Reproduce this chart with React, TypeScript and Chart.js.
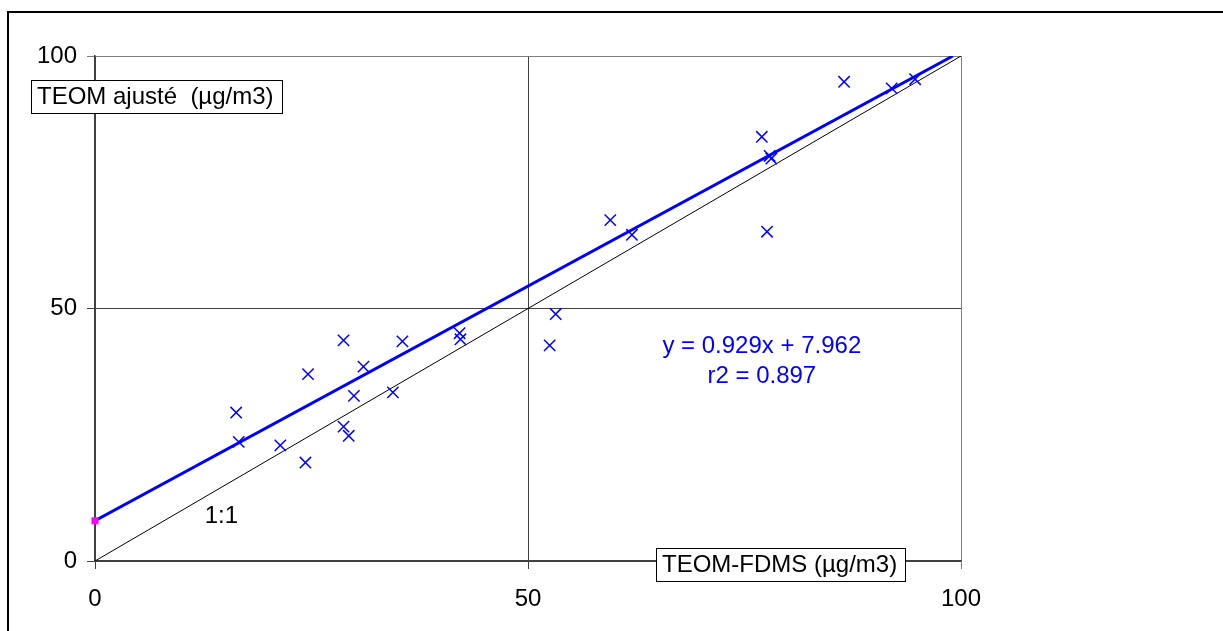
import React, { useEffect, useRef } from 'react';
import { Chart, registerables } from 'chart.js';

Chart.register(...registerables);

// TEOM-FDMS (x) vs TEOM ajusté (y), µg/m3
const fdmsValues = [
  16.3, 16.6, 21.4, 24.3, 24.6, 28.7, 28.7, 29.3, 29.9, 31.0, 34.4, 35.5,
  42.1, 42.2, 52.5, 53.2, 59.5, 62.0, 77.0, 77.6, 77.9, 78.1, 86.5, 92.0, 94.7,
];
const teomAdjValues = [
  29.4, 23.6, 22.9, 19.5, 37.0, 43.7, 26.6, 24.8, 32.7, 38.5, 33.4, 43.5,
  45.1, 43.9, 42.7, 48.9, 67.5, 64.6, 84.0, 65.2, 80.2, 79.7, 94.9, 93.6, 95.4,
];

// Regression line y = 0.929x + 7.962 (end points)
const fitLineX = [0, 99.06];
const fitLineY = [7.962, 100];
const interceptPoint = { x: 0, y: 7.962 };

// 1:1 line
const identityX = [0, 100];
const identityY = [0, 100];

const axisMin = 0;
const axisMax = 100;
const axisStep = 50;

const equationText = ['y = 0.929x + 7.962', 'r2 = 0.897'];
const equationAnchor = { x: 77.0, y: [41.25, 35.2] };
const identityLabel = '1:1';
const identityLabelAnchor = { x: 14.6, y: 7.46 };
const yAxisTitle = 'TEOM ajusté  (µg/m3)';
const xAxisTitle = 'TEOM-FDMS (µg/m3)';

const FONT = '"Liberation Sans", Arial, sans-serif';

const annotationPlugin = {
  id: 'annotations',
  afterDraw(chart: any) {
    const { ctx, scales } = chart;
    const xs = scales.x;
    const ys = scales.y;
    ctx.save();
    ctx.font = `24px ${FONT}`;
    ctx.textBaseline = 'alphabetic';

    // 1:1 label
    ctx.fillStyle = '#000';
    ctx.textAlign = 'center';
    ctx.fillText(
      identityLabel,
      xs.getPixelForValue(identityLabelAnchor.x),
      ys.getPixelForValue(identityLabelAnchor.y)
    );

    // equation
    ctx.fillStyle = '#0000FF';
    equationText.forEach((t, i) => {
      ctx.fillText(t, xs.getPixelForValue(equationAnchor.x), ys.getPixelForValue(equationAnchor.y[i]));
    });

    // axis title boxes
    const drawBox = (text: string, left: number, top: number) => {
      ctx.font = `24px ${FONT}`;
      const w = ctx.measureText(text).width;
      const bw = Math.round(w + 14);
      const bh = 33;
      ctx.fillStyle = '#fff';
      ctx.fillRect(left, top, bw, bh);
      ctx.strokeStyle = '#000';
      ctx.lineWidth = 1;
      ctx.strokeRect(left + 0.5, top + 0.5, bw, bh);
      ctx.fillStyle = '#000';
      ctx.textAlign = 'left';
      ctx.fillText(text, left + 6, top + 23.5);
    };
    drawBox(yAxisTitle, 31, 80);
    drawBox(xAxisTitle, 656, 548);

    // outer frame
    ctx.strokeStyle = '#000';
    ctx.lineWidth = 2;
    ctx.beginPath();
    ctx.moveTo(8, 631);
    ctx.lineTo(8, 12);
    ctx.lineTo(1223, 12);
    ctx.stroke();
    ctx.restore();
  },
};

export default function App() {
  const canvasRef = useRef<HTMLCanvasElement | null>(null);

  useEffect(() => {
    if (!canvasRef.current) return;
    const scatterData = fdmsValues.map((x, i) => ({ x, y: teomAdjValues[i] }));
    const fitData = fitLineX.map((x, i) => ({ x, y: fitLineY[i] }));
    const identityData = identityX.map((x, i) => ({ x, y: identityY[i] }));

    const gridColor = (c: any) => (c.tick && c.tick.value === axisMax ? '#808080' : '#404040');

    const chart = new Chart(canvasRef.current, {
      type: 'scatter',
      data: {
        datasets: [
          {
            label: 'intercept',
            data: [interceptPoint],
            pointStyle: 'rect',
            pointRadius: 5,
            backgroundColor: '#FF00FF',
            borderColor: '#FF00FF',
            borderWidth: 0,
            clip: false,
          } as any,
          {
            label: 'mesures',
            data: scatterData,
            pointStyle: 'crossRot',
            pointRadius: 8,
            borderColor: '#0000FF',
            backgroundColor: '#0000FF',
            borderWidth: 1.5,
          },
          {
            label: 'régression',
            data: fitData,
            showLine: true,
            pointRadius: 0,
            borderColor: '#0000FF',
            borderWidth: 3,
          },
          {
            label: '1:1',
            data: identityData,
            showLine: true,
            pointRadius: 0,
            borderColor: '#000',
            borderWidth: 1,
          },
        ],
      },
      options: {
        animation: false,
        responsive: false,
        devicePixelRatio: 1,
        layout: { padding: { left: 0, top: 56, right: 262, bottom: 0 } },
        plugins: { legend: { display: false }, tooltip: { enabled: false } },
        scales: {
          x: {
            type: 'linear',
            min: axisMin,
            max: axisMax,
            afterFit: (s: any) => {
              s.height = 70;
            },
            ticks: {
              stepSize: axisStep,
              color: '#000',
              font: { family: FONT, size: 24 },
              padding: 16,
            },
            grid: { color: gridColor, lineWidth: 1, tickLength: 8, drawTicks: true },
            border: { color: '#404040', width: 1.5 },
          },
          y: {
            type: 'linear',
            min: axisMin,
            max: axisMax,
            afterFit: (s: any) => {
              s.width = 95;
            },
            ticks: {
              stepSize: axisStep,
              color: '#000',
              font: { family: FONT, size: 24 },
              padding: 10,
            },
            grid: { color: gridColor, lineWidth: 1, tickLength: 8, drawTicks: true },
            border: { color: '#404040', width: 1.5 },
          },
        },
      },
      plugins: [annotationPlugin],
    });
    return () => chart.destroy();
  }, []);

  return (
    <div style={{ position: 'absolute', left: 0, top: 0, width: 1223, height: 631, background: '#fff' }}>
      <canvas ref={canvasRef} width={1223} height={631} style={{ display: 'block' }} />
    </div>
  );
}
